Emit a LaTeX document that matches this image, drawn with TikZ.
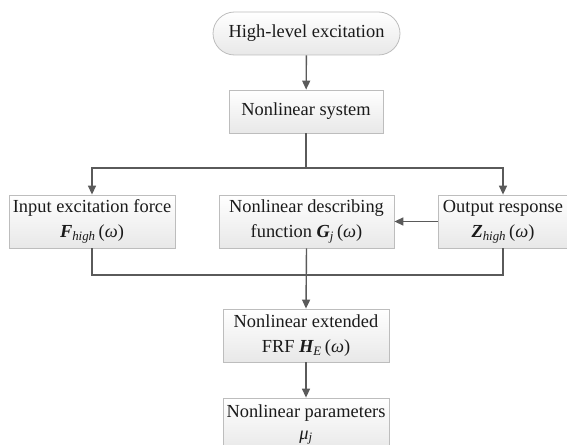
\documentclass[tikz,border=0pt]{standalone}
\usepackage{fontspec}
\setmainfont{Liberation Serif}
\usetikzlibrary{arrows.meta}
\definecolor{linegray}{HTML}{5A5A5A}
\definecolor{bordergray}{HTML}{BDBDBD}
\definecolor{boxbot}{HTML}{E8E8E8}
\definecolor{txt}{HTML}{1A1A1A}
\newcommand{\vb}[1]{{\bfseries\itshape #1}}
\newcommand{\sbs}[1]{\textsubscript{\itshape #1}}
\newcommand{\om}{({\itshape ω})}
\begin{document}
\begin{tikzpicture}[x=1pt,y=-1pt,
  boxbase/.style={draw=bordergray, line width=0.8pt, top color=white, bottom color=boxbot,
    inner sep=0pt, align=center, text=txt, font=\fontsize{18.4}{25}\selectfont},
  stepbox/.style={boxbase, minimum height=53pt},
  conn/.style={draw=linegray, line width=1.4pt},
  arr/.style={conn, -{Triangle[length=9pt,width=8pt]}}]
\useasboundingbox (0,0) rectangle (567,444);
\node[boxbase, rounded corners=21.5pt, minimum width=187pt, minimum height=43pt] (start) at (306.5,33.5) {High-level excitation};
\node[boxbase, minimum width=154pt, minimum height=43pt] (sys) at (306,111.5) {Nonlinear system};
\node[stepbox, minimum width=166pt] (inp) at (92,221.5) {Input excitation force\\\vb{F}\sbs{high}\,\om};
\node[stepbox, minimum width=175pt] (ndf) at (306.5,221.5) {Nonlinear describing\\function \vb{G}\sbs{j}\,\om};
\node[stepbox, minimum width=130pt] (out) at (503,221.5) {Output response\\\vb{Z}\sbs{high}\,\om};
\node[stepbox, minimum width=166pt] (frf) at (306,335.5) {Nonlinear extended\\FRF \vb{H}\sbs{E}\,\om};
\node[stepbox, minimum width=166pt] (par) at (306,424.5) {Nonlinear parameters\\[-3pt]{\itshape μ}\sbs{j}};
\coordinate (j1) at (306,168);
\coordinate (j2) at (306,275);
\draw[arr] (start) -- (sys);
\draw[conn] (sys.south) -- (j1);
\draw[arr] (j1) -| (inp.north);
\draw[arr] (j1) -| (out.north);
\draw[arr] (out.west) -- (ndf.east);
\draw[conn] (inp.south) |- (j2);
\draw[conn] (out.south) |- (j2);
\draw[arr] (ndf.south) -- (frf.north);
\draw[arr] (frf) -- (par);
\end{tikzpicture}
\end{document}
